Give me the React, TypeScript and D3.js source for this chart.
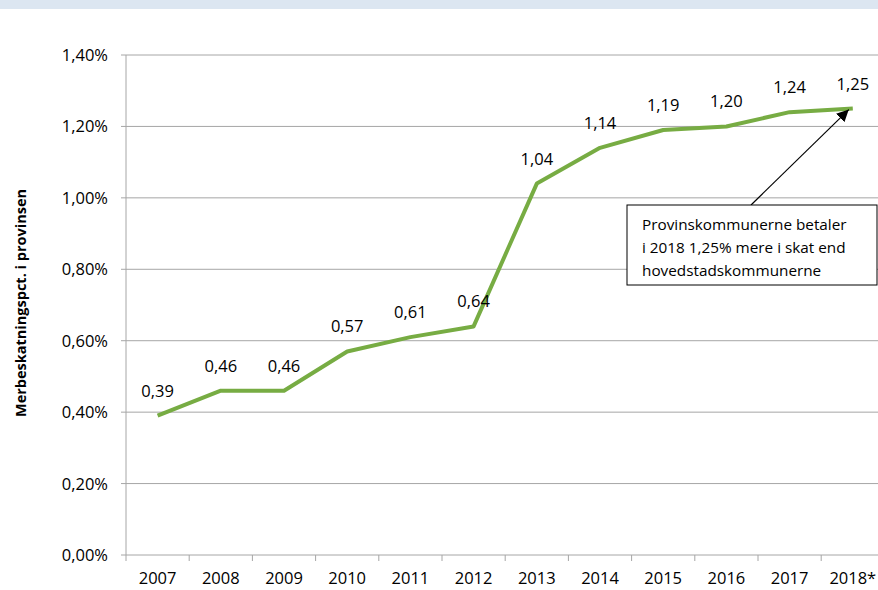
import React, { useEffect, useRef } from "react";
import * as d3 from "d3";

const years = ["2007", "2008", "2009", "2010", "2011", "2012", "2013", "2014", "2015", "2016", "2017", "2018*"];
const values = [0.39, 0.46, 0.46, 0.57, 0.61, 0.64, 1.04, 1.14, 1.19, 1.2, 1.24, 1.25];
const yTicks = [0, 0.2, 0.4, 0.6, 0.8, 1.0, 1.2, 1.4];
const yTitle = "Merbeskatningspct. i provinsen";
const noteLines = [
  "Provinskommunerne betaler",
  "i 2018 1,25% mere i skat end",
  "hovedstadskommunerne",
];

const W = 878;
const H = 590;
const FONT = "'Open Sans', 'Noto Sans', sans-serif";

const App = () => {
  const ref = useRef<SVGSVGElement | null>(null);

  useEffect(() => {
    const svg = d3.select(ref.current);
    svg.selectAll("*").remove();

    // top band
    svg.append("rect").attr("x", 0).attr("y", 0).attr("width", W).attr("height", 9).attr("fill", "#dce6f1");

    const left = 126;
    const step = 63.2;
    const x = d3
      .scaleBand<string>()
      .domain(years)
      .range([left, left + step * years.length])
      .padding(0);
    const y = d3.scaleLinear().domain([0, 1.4]).range([555, 55]);
    const cx = (d: string) => (x(d) as number) + x.bandwidth() / 2;

    const fmtPct = (v: number) => d3.format(".2f")(v).replace(".", ",") + "%";
    const fmtVal = (v: number) => d3.format(".2f")(v).replace(".", ",");

    // gridlines
    svg
      .append("g")
      .selectAll("line")
      .data(yTicks)
      .join("line")
      .attr("x1", left - 5)
      .attr("x2", W)
      .attr("y1", (d) => y(d))
      .attr("y2", (d) => y(d))
      .attr("stroke", "#a6a6a6")
      .attr("stroke-width", 1);

    // y axis line
    svg
      .append("line")
      .attr("x1", left)
      .attr("x2", left)
      .attr("y1", y(1.4))
      .attr("y2", y(0))
      .attr("stroke", "#a6a6a6");

    // y tick labels
    svg
      .append("g")
      .selectAll("text")
      .data(yTicks)
      .join("text")
      .attr("x", 108)
      .attr("y", (d) => y(d) + 6)
      .attr("text-anchor", "end")
      .attr("font-family", FONT)
      .attr("font-size", 16.5)
      .attr("fill", "#000")
      .text((d) => fmtPct(d));

    // x ticks at category boundaries
    svg
      .append("g")
      .selectAll("line")
      .data(years)
      .join("line")
      .attr("x1", (d) => x(d) as number)
      .attr("x2", (d) => x(d) as number)
      .attr("y1", y(0))
      .attr("y2", y(0) + 6)
      .attr("stroke", "#a6a6a6");

    // x labels
    svg
      .append("g")
      .selectAll("text")
      .data(years)
      .join("text")
      .attr("x", (d) => cx(d))
      .attr("y", 584)
      .attr("text-anchor", "middle")
      .attr("font-family", FONT)
      .attr("font-size", 16.5)
      .attr("fill", "#000")
      .text((d) => d);

    // y title
    svg
      .append("text")
      .attr("transform", `translate(26, 303) rotate(-90)`)
      .attr("text-anchor", "middle")
      .attr("font-family", FONT)
      .attr("font-weight", "bold")
      .attr("font-size", 14.5)
      .attr("fill", "#000")
      .text(yTitle);

    // line
    const pts = years.map((d, i) => [cx(d), y(values[i])] as [number, number]);
    svg
      .append("path")
      .attr("d", d3.line()(pts))
      .attr("fill", "none")
      .attr("stroke", "#77ac43")
      .attr("stroke-width", 4)
      .attr("stroke-linejoin", "round");

    // data labels
    svg
      .append("g")
      .selectAll("text")
      .data(years)
      .join("text")
      .attr("x", (d) => cx(d))
      .attr("y", (d, i) => y(values[i]) - 19)
      .attr("text-anchor", "middle")
      .attr("font-family", FONT)
      .attr("font-size", 16.5)
      .attr("fill", "#000")
      .text((d, i) => fmtVal(values[i]));

    // annotation arrow
    const defs = svg.append("defs");
    defs
      .append("marker")
      .attr("id", "arrowhead")
      .attr("viewBox", "0 0 10 10")
      .attr("refX", 10)
      .attr("refY", 5)
      .attr("markerWidth", 12)
      .attr("markerHeight", 12)
      .attr("markerUnits", "userSpaceOnUse")
      .attr("orient", "auto")
      .append("path")
      .attr("d", "M0,0 L10,5 L0,10 Z")
      .attr("fill", "#000");

    const last = years.length - 1;
    svg
      .append("line")
      .attr("x1", 751)
      .attr("y1", 205)
      .attr("x2", cx(years[last]) - 4)
      .attr("y2", y(values[last]) + 1)
      .attr("stroke", "#000")
      .attr("stroke-width", 1.2)
      .attr("marker-end", "url(#arrowhead)");

    // annotation box
    svg
      .append("rect")
      .attr("x", 627)
      .attr("y", 205)
      .attr("width", 250)
      .attr("height", 80)
      .attr("fill", "#fff")
      .attr("stroke", "#000")
      .attr("stroke-width", 1);

    svg
      .append("g")
      .selectAll("text")
      .data(noteLines)
      .join("text")
      .attr("x", 642)
      .attr("y", (d, i) => 230 + i * 23)
      .attr("font-family", FONT)
      .attr("font-size", 15.3)
      .attr("fill", "#000")
      .text((d) => d);
  }, []);

  return (
    <svg
      ref={ref}
      width={W}
      height={H}
      style={{ position: "absolute", top: 0, left: 0, background: "#fff" }}
    />
  );
};

export default App;
